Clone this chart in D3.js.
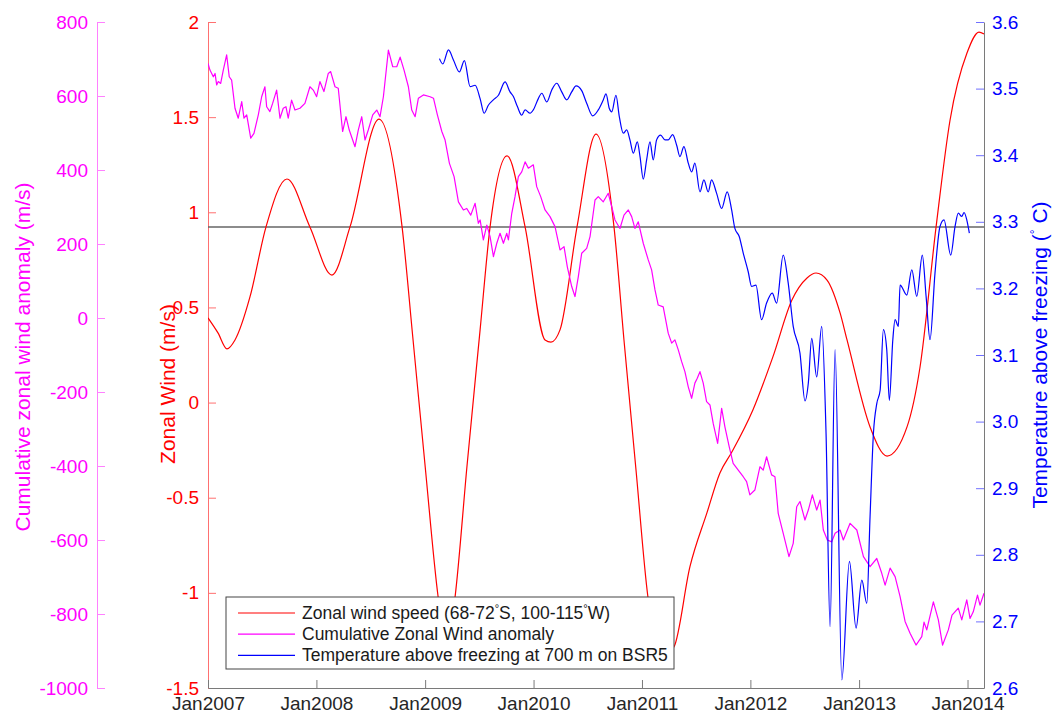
<!DOCTYPE html>
<html>
<head>
<meta charset="utf-8">
<script src="https://cdn.jsdelivr.net/npm/d3@7"></script>
<style>
  body { margin: 0; background: #fff; }
  svg { font-family: "Liberation Sans", Arial, Helvetica, sans-serif; }
</style>
</head>
<body>
<svg id="chart" width="1055" height="717"></svg>
<script>
// [decimal year, m/s]
const zonalWind = [
  [2007.000, 0.445], [2007.092, 0.366], [2007.175, 0.282], [2007.249, 0.329], [2007.387, 0.555],
  [2007.535, 0.923], [2007.728, 1.175], [2007.940, 0.923], [2008.143, 0.670], [2008.309, 0.923],
  [2008.576, 1.490], [2008.788, 0.923], [2008.889, 0.329], [2008.999, -0.328], [2009.120, -1.022],
  [2009.198, -1.300], [2009.276, -1.022], [2009.387, -0.328], [2009.507, 0.382], [2009.599, 0.923],
  [2009.756, 1.296], [2009.922, 0.923], [2010.106, 0.329], [2010.161, 0.318], [2010.244, 0.382],
  [2010.401, 0.923], [2010.576, 1.411], [2010.742, 0.923], [2010.834, 0.329], [2010.945, -0.354],
  [2011.055, -1.022], [2011.194, -1.330], [2011.295, -1.284], [2011.442, -0.864], [2011.599, -0.580],
  [2011.719, -0.370], [2011.829, -0.260], [2012.023, -0.039], [2012.207, 0.240], [2012.382, 0.539],
  [2012.521, 0.655], [2012.604, 0.681], [2012.705, 0.644], [2012.825, 0.471], [2012.889, 0.329],
  [2013.101, -0.128], [2013.258, -0.281], [2013.442, -0.128], [2013.562, 0.187], [2013.710, 0.923],
  [2013.839, 1.485], [2013.995, 1.837], [2014.106, 1.947], [2014.152, 1.937]
];

// [decimal year, m/s]
const cumAnomaly = [
  [2007.000, 688], [2007.018, 670], [2007.049, 652], [2007.065, 661], [2007.080, 630], [2007.095, 639],
  [2007.117, 634], [2007.141, 670], [2007.172, 711], [2007.196, 652], [2007.218, 643], [2007.249, 567],
  [2007.279, 540], [2007.311, 585], [2007.332, 540], [2007.357, 549], [2007.394, 486], [2007.424, 499],
  [2007.464, 549], [2007.495, 598], [2007.525, 625], [2007.541, 571], [2007.571, 558], [2007.596, 580],
  [2007.633, 616], [2007.664, 540], [2007.694, 567], [2007.719, 571], [2007.740, 540], [2007.771, 589],
  [2007.802, 562], [2007.848, 567], [2007.894, 580], [2007.940, 625], [2007.971, 616], [2008.002, 598],
  [2008.032, 639], [2008.069, 612], [2008.109, 661], [2008.131, 666], [2008.171, 625], [2008.201, 621],
  [2008.241, 504], [2008.272, 544], [2008.302, 508], [2008.355, 463], [2008.385, 508], [2008.417, 544],
  [2008.447, 481], [2008.477, 508], [2008.518, 549], [2008.555, 562], [2008.585, 544], [2008.616, 598],
  [2008.662, 724], [2008.702, 679], [2008.739, 679], [2008.770, 705], [2008.806, 670], [2008.846, 625],
  [2008.877, 562], [2008.908, 544], [2008.938, 594], [2008.984, 603], [2009.046, 598], [2009.077, 594],
  [2009.113, 549], [2009.154, 504], [2009.184, 481], [2009.224, 418], [2009.267, 382], [2009.307, 314],
  [2009.353, 292], [2009.384, 296], [2009.421, 278], [2009.461, 310], [2009.491, 256], [2009.507, 265],
  [2009.537, 211], [2009.569, 251], [2009.599, 220], [2009.630, 166], [2009.661, 202], [2009.691, 229],
  [2009.722, 202], [2009.753, 229], [2009.768, 211], [2009.799, 283], [2009.829, 328], [2009.860, 382],
  [2009.891, 395], [2009.922, 422], [2009.952, 405], [2009.998, 414], [2010.029, 355], [2010.066, 328],
  [2010.106, 292], [2010.152, 274], [2010.198, 247], [2010.244, 184], [2010.281, 193], [2010.311, 139],
  [2010.352, 85], [2010.382, 58], [2010.413, 112], [2010.444, 175], [2010.490, 188], [2010.521, 220],
  [2010.567, 319], [2010.597, 328], [2010.643, 314], [2010.689, 337], [2010.721, 301], [2010.751, 265],
  [2010.797, 242], [2010.834, 278], [2010.874, 292], [2010.905, 274], [2010.935, 242], [2010.966, 260],
  [2011.012, 202], [2011.058, 157], [2011.089, 130], [2011.120, 76], [2011.150, 35], [2011.196, 30],
  [2011.242, -41], [2011.274, -68], [2011.304, -59], [2011.335, -86], [2011.366, -118], [2011.396, -145],
  [2011.427, -186], [2011.458, -217], [2011.488, -176], [2011.510, -163], [2011.535, -145], [2011.565, -176],
  [2011.596, -226], [2011.627, -235], [2011.657, -285], [2011.698, -339], [2011.735, -244], [2011.765, -294],
  [2011.805, -348], [2011.841, -393], [2011.888, -411], [2011.934, -429], [2011.965, -442], [2011.995, -478],
  [2012.041, -465], [2012.088, -402], [2012.118, -411], [2012.149, -375], [2012.195, -424], [2012.226, -429],
  [2012.256, -528], [2012.302, -582], [2012.355, -645], [2012.394, -609], [2012.426, -510], [2012.456, -496],
  [2012.502, -546], [2012.533, -519], [2012.570, -478], [2012.610, -519], [2012.641, -492], [2012.671, -573],
  [2012.708, -600], [2012.748, -605], [2012.779, -582], [2012.825, -573], [2012.855, -600], [2012.917, -555],
  [2012.979, -573], [2013.040, -645], [2013.101, -672], [2013.163, -650], [2013.209, -690], [2013.240, -722],
  [2013.286, -676], [2013.332, -699], [2013.378, -753], [2013.424, -820], [2013.470, -852], [2013.525, -884],
  [2013.578, -861], [2013.599, -822], [2013.624, -843], [2013.685, -767], [2013.731, -816], [2013.770, -884],
  [2013.823, -843], [2013.857, -803], [2013.915, -784], [2013.947, -816], [2013.993, -762], [2014.023, -812],
  [2014.053, -794], [2014.092, -749], [2014.115, -776], [2014.152, -744]
];

// [decimal year, deg C above freezing]
const tempBSR5 = [
  [2009.132, 3.545], [2009.163, 3.537], [2009.215, 3.558], [2009.261, 3.543], [2009.316, 3.525],
  [2009.362, 3.542], [2009.415, 3.503], [2009.461, 3.505], [2009.507, 3.485], [2009.544, 3.463],
  [2009.583, 3.475], [2009.629, 3.483], [2009.676, 3.490], [2009.737, 3.510], [2009.783, 3.495],
  [2009.814, 3.488], [2009.851, 3.473], [2009.891, 3.460], [2009.922, 3.468], [2009.968, 3.463],
  [2009.998, 3.468], [2010.044, 3.485], [2010.076, 3.493], [2010.122, 3.480], [2010.168, 3.498],
  [2010.214, 3.508], [2010.260, 3.495], [2010.306, 3.483], [2010.352, 3.495], [2010.392, 3.504],
  [2010.444, 3.497], [2010.490, 3.478], [2010.546, 3.459], [2010.597, 3.468], [2010.643, 3.483],
  [2010.668, 3.492], [2010.699, 3.470], [2010.721, 3.465], [2010.760, 3.490], [2010.791, 3.458],
  [2010.828, 3.433], [2010.859, 3.438], [2010.889, 3.423], [2010.920, 3.403], [2010.957, 3.420],
  [2010.982, 3.398], [2011.012, 3.364], [2011.043, 3.393], [2011.074, 3.420], [2011.104, 3.393],
  [2011.135, 3.423], [2011.172, 3.430], [2011.212, 3.423], [2011.242, 3.423], [2011.283, 3.431],
  [2011.320, 3.415], [2011.350, 3.398], [2011.387, 3.413], [2011.427, 3.388], [2011.458, 3.375],
  [2011.488, 3.388], [2011.535, 3.345], [2011.571, 3.363], [2011.611, 3.345], [2011.642, 3.363],
  [2011.688, 3.343], [2011.735, 3.320], [2011.786, 3.345], [2011.827, 3.318], [2011.857, 3.290],
  [2011.897, 3.278], [2011.934, 3.253], [2011.980, 3.225], [2012.011, 3.203], [2012.051, 3.205],
  [2012.103, 3.153], [2012.149, 3.178], [2012.201, 3.193], [2012.241, 3.178], [2012.302, 3.250],
  [2012.348, 3.208], [2012.394, 3.143], [2012.456, 3.103], [2012.502, 3.031], [2012.533, 3.058],
  [2012.564, 3.125], [2012.610, 3.067], [2012.656, 3.143], [2012.696, 2.982], [2012.733, 2.692],
  [2012.779, 3.108], [2012.841, 2.612], [2012.911, 2.790], [2012.972, 2.690], [2013.025, 2.762],
  [2013.071, 2.727], [2013.101, 2.857], [2013.132, 2.982], [2013.163, 3.027], [2013.194, 3.047],
  [2013.224, 3.138], [2013.255, 3.108], [2013.279, 3.032], [2013.311, 3.123], [2013.332, 3.153],
  [2013.362, 3.143], [2013.378, 3.205], [2013.440, 3.190], [2013.486, 3.228], [2013.532, 3.188],
  [2013.583, 3.250], [2013.618, 3.188], [2013.654, 3.123], [2013.700, 3.223], [2013.746, 3.293],
  [2013.783, 3.303], [2013.845, 3.250], [2013.885, 3.293], [2013.915, 3.313], [2013.947, 3.308],
  [2013.968, 3.314], [2013.993, 3.303], [2014.017, 3.283]
];

const refLevel = 0.923;   // horizontal reference line, on the zonal wind axis
const xDomain = [2007, 2014.152];
const yearTicks = [2007, 2008, 2009, 2010, 2011, 2012, 2013, 2014];
const windTicks = [-1.5, -1, -0.5, 0, 0.5, 1, 1.5, 2];
const anomalyTicks = [-1000, -800, -600, -400, -200, 0, 200, 400, 600, 800];
const tempTicks = [2.6, 2.7, 2.8, 2.9, 3.0, 3.1, 3.2, 3.3, 3.4, 3.5, 3.6];
const legendLabels = [
  ["Zonal wind speed (68-72", "°", "S, 100-115", "°", "W)"],
  ["Cumulative Zonal Wind anomaly"],
  ["Temperature above freezing at 700 m on BSR5"]
];

const RED = "#ff0000", MAGENTA = "#ff00ff", BLUE = "#0000ff";
const tickFontSize = 19, titleFontSize = 21, legendFontSize = 17.5;

// decimal year -> Date
const toDate = (dy) => {
  const y = Math.floor(dy);
  const s = new Date(y, 0, 1).getTime(), e = new Date(y + 1, 0, 1).getTime();
  return new Date(s + (dy - y) * (e - s));
};

const svg = d3.select("#chart");
const plot = { left: 208, right: 984, top: 22, bottom: 688 };

const x = d3.scaleTime().domain(xDomain.map(toDate)).range([plot.left, plot.right]);
const yWind = d3.scaleLinear().domain([-1.5, 2]).range([plot.bottom, plot.top]);
const yAnom = d3.scaleLinear().domain([-1000, 800]).range([plot.bottom, plot.top]);
const yTemp = d3.scaleLinear().domain([2.6, 3.6]).range([plot.bottom, plot.top]);

svg.append("defs").append("clipPath").attr("id", "plotClip")
  .append("rect")
    .attr("x", plot.left).attr("y", plot.top)
    .attr("width", plot.right - plot.left).attr("height", plot.bottom - plot.top);

// styling helper for axes
const styleAxis = (g, lineColor, textColor, domainColor) => {
  g.select(".domain").attr("stroke", domainColor || lineColor).attr("stroke-width", 1);
  g.selectAll(".tick line").attr("stroke", lineColor).attr("stroke-width", 1);
  g.selectAll(".tick text")
    .attr("fill", textColor)
    .style("font-size", `${tickFontSize}px`)
    .style("font-family", "'Liberation Sans', Arial, sans-serif");
};

// cumulative anomaly axis (far left)
svg.append("g")
  .attr("transform", "translate(97,0)")
  .call(d3.axisLeft(yAnom).tickValues(anomalyTicks)
    .tickSizeInner(-8).tickSizeOuter(0).tickPadding(9)
    .tickFormat(d => String(d)))
  .call(g => styleAxis(g, "#ff80ff", MAGENTA));

// zonal wind axis
svg.append("g")
  .attr("transform", `translate(${plot.left},0)`)
  .call(d3.axisLeft(yWind).tickValues(windTicks)
    .tickSizeInner(-8).tickSizeOuter(0).tickPadding(9)
    .tickFormat(d => String(d)))
  .call(g => styleAxis(g, "#ff7070", RED));

// temperature axis (right)
svg.append("g")
  .attr("transform", `translate(${plot.right},0)`)
  .call(d3.axisRight(yTemp).tickValues(tempTicks)
    .tickSizeInner(-8).tickSizeOuter(0).tickPadding(8)
    .tickFormat(d => d.toFixed(1)))
  .call(g => styleAxis(g, "#7070ff", BLUE, "#7a7a7a"));

// time axis
svg.append("g")
  .attr("transform", `translate(0,${plot.bottom})`)
  .call(d3.axisBottom(x).tickValues(yearTicks.map(toDate))
    .tickSizeInner(-8).tickSizeOuter(0).tickPadding(9)
    .tickFormat(d3.timeFormat("%b%Y")))
  .call(g => styleAxis(g, "#7a7a7a", "#262626"));

// axis titles
const title = (tx, ty, color) => svg.append("text")
  .attr("transform", `translate(${tx},${ty}) rotate(-90)`)
  .attr("text-anchor", "middle")
  .attr("fill", color)
  .style("font-size", `${titleFontSize}px`);

title(30, 357, MAGENTA).text("Cumulative zonal wind anomaly (m/s)");
title(175, 384, RED).text("Zonal Wind (m/s)");
const tt = title(1047, 355, BLUE);
tt.append("tspan").text("Temperature above freezing (");
tt.append("tspan").attr("dy", -8).style("font-size", "12px").text("°");
tt.append("tspan").attr("dy", 8).text(" C)");

// reference line
svg.append("line")
  .attr("x1", plot.left).attr("x2", plot.right)
  .attr("y1", yWind(refLevel)).attr("y2", yWind(refLevel))
  .attr("stroke", "#666").attr("stroke-width", 1.6);

const lines = svg.append("g").attr("clip-path", "url(#plotClip)");

lines.append("path")
  .datum(zonalWind)
  .attr("fill", "none").attr("stroke", RED).attr("stroke-width", 1.2)
  .attr("d", d3.line().x(d => x(toDate(d[0]))).y(d => yWind(d[1])).curve(d3.curveMonotoneX));

lines.append("path")
  .datum(cumAnomaly)
  .attr("fill", "none").attr("stroke", MAGENTA).attr("stroke-width", 1.2)
  .attr("stroke-linejoin", "round")
  .attr("d", d3.line().x(d => x(toDate(d[0]))).y(d => yAnom(d[1])));

lines.append("path")
  .datum(tempBSR5)
  .attr("fill", "none").attr("stroke", BLUE).attr("stroke-width", 1.2)
  .attr("d", d3.line().x(d => x(toDate(d[0]))).y(d => yTemp(d[1])).curve(d3.curveMonotoneX));

// legend
const legend = svg.append("g").attr("class", "legend");
legend.append("rect")
  .attr("x", 226).attr("y", 597).attr("width", 448).attr("height", 72)
  .attr("fill", "#fff").attr("stroke", "#444").attr("stroke-width", 1);

const legendColors = [RED, MAGENTA, BLUE];
legendLabels.forEach((parts, i) => {
  const ly = 613 + i * 21.2;
  legend.append("line")
    .attr("x1", 238).attr("x2", 295).attr("y1", ly).attr("y2", ly)
    .attr("stroke", legendColors[i]).attr("stroke-width", 1.2);
  const t = legend.append("text")
    .attr("x", 302).attr("y", ly + 6)
    .attr("fill", "#1a1a1a")
    .style("font-size", `${legendFontSize}px`);
  let raised = false;
  parts.forEach(p => {
    const sup = p === "°";
    const span = t.append("tspan").text(p);
    if (sup) { span.attr("dy", -7).style("font-size", "11px"); raised = true; }
    else if (raised) { span.attr("dy", 7); raised = false; }
  });
});
</script>
</body>
</html>
